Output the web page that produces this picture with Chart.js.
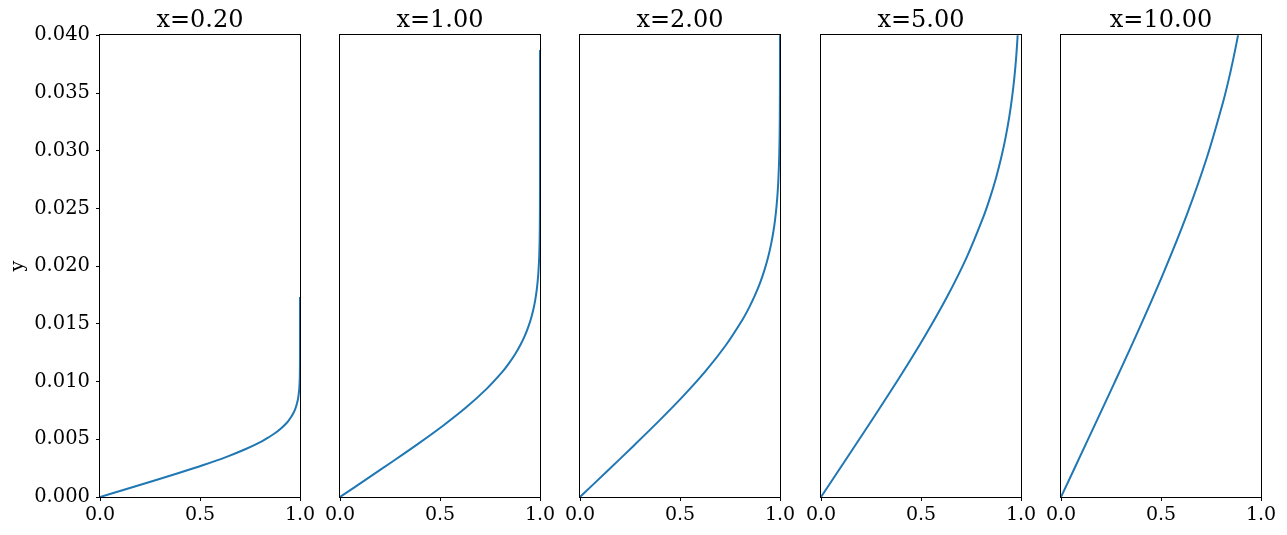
<!DOCTYPE html>
<html>
<head>
<meta charset="utf-8">
<script src="https://cdn.jsdelivr.net/npm/chart.js@4/dist/chart.umd.min.js"></script>
<style>
  body { margin: 0; background: #fff; }
  #wrap { position: relative; width: 1287px; height: 535px; overflow: hidden; }
  #wrap canvas { position: absolute; top: 0; }
</style>
</head>
<body>
<div id="wrap"></div>
<script>
// panel titles and axis ticks
const panelTitles = ["x=0.20", "x=1.00", "x=2.00", "x=5.00", "x=10.00"];
const xTickValues = [0, 0.5, 1.0];
const yTickStep = 0.005;
const yMax = 0.04;

// velocity ratio along each profile (same shape for every station)
const uProfile = [0, 0.1328, 0.2647, 0.3938, 0.5168, 0.6298, 0.7290, 0.8115, 0.8461, 0.8761,
    0.9018, 0.9233, 0.9411, 0.9555, 0.9670, 0.9759, 0.9827, 0.9878, 0.9916, 0.9962,
    0.9990, 0.9999, 1.0, 1.0];

// wall distance for those velocities, one list per station
const yAt020 = [0, 0.00069, 0.00139, 0.00208, 0.00277, 0.00346, 0.00416, 0.00485, 0.00520, 0.00554,
    0.00589, 0.00624, 0.00658, 0.00693, 0.00728, 0.00762, 0.00797, 0.00831, 0.00866, 0.00935,
    0.01039, 0.01212, 0.01386, 0.01732];
const yAt100 = [0, 0.00155, 0.00310, 0.00465, 0.00620, 0.00775, 0.00930, 0.01084, 0.01162, 0.01239,
    0.01317, 0.01394, 0.01472, 0.01549, 0.01627, 0.01704, 0.01782, 0.01859, 0.01937, 0.02091,
    0.02324, 0.02711, 0.03098, 0.03873];
const yAt200 = [0, 0.00219, 0.00438, 0.00657, 0.00876, 0.01095, 0.01315, 0.01534, 0.01643, 0.01753,
    0.01862, 0.01972, 0.02081, 0.02191, 0.02300, 0.02410, 0.02520, 0.02629, 0.02739, 0.02958,
    0.03286, 0.03834, 0.04382, 0.05477];
const yAt500 = [0, 0.00346, 0.00693, 0.01039, 0.01386, 0.01732, 0.02078, 0.02425, 0.02598, 0.02771,
    0.02945, 0.03118, 0.03291, 0.03464, 0.03637, 0.03811, 0.03984, 0.04157, 0.04330, 0.04677,
    0.05196, 0.06062, 0.06928, 0.08660];
const yAt1000 = [0, 0.00490, 0.00980, 0.01470, 0.01960, 0.02449, 0.02939, 0.03429, 0.03674, 0.03919,
    0.04164, 0.04409, 0.04654, 0.04899, 0.05144, 0.05389, 0.05634, 0.05879, 0.06124, 0.06614,
    0.07348, 0.08573, 0.09798, 0.12247];

const profiles = [yAt020, yAt100, yAt200, yAt500, yAt1000];
const plotLefts = [100, 340, 580, 821, 1061];
const plotWidth = 200;
const FONT = "'DejaVu Serif', serif";

Chart.defaults.font.family = FONT;
Chart.defaults.color = "#000";

// matplotlib-style box around each axes
const framePlugin = {
    id: "frame",
    afterDraw(chart) {
        const a = chart.chartArea;
        const ctx = chart.ctx;
        ctx.save();
        ctx.strokeStyle = "#000";
        ctx.lineWidth = 1;
        ctx.strokeRect(Math.round(a.left) - 0.5, Math.round(a.top) - 0.5,
            Math.round(a.right - a.left) + 1, Math.round(a.bottom - a.top) + 1);
        ctx.restore();
    }
};

function makePanel(i) {
    const first = i === 0;
    const padSide = 20;
    const left = first ? 0 : plotLefts[i] - padSide;
    const width = first ? plotLefts[0] + plotWidth + padSide : plotWidth + 2 * padSide;

    const canvas = document.createElement("canvas");
    canvas.width = width;
    canvas.height = 535;
    canvas.style.left = left + "px";
    canvas.style.width = width + "px";
    canvas.style.height = "535px";
    document.getElementById("wrap").appendChild(canvas);

    const points = uProfile.map((u, k) => ({ x: u, y: profiles[i][k] }));

    new Chart(canvas.getContext("2d"), {
        type: "scatter",
        data: {
            datasets: [{
                data: points,
                showLine: true,
                borderColor: "#1f77b4",
                borderWidth: 2,
                pointRadius: 0,
                tension: 0.35
            }]
        },
        options: {
            responsive: false,
            animation: false,
            layout: { padding: { left: first ? 0 : padSide, right: padSide, top: 0, bottom: 0 } },
            plugins: {
                legend: { display: false },
                tooltip: { enabled: false },
                title: {
                    display: true,
                    fullSize: false,
                    text: panelTitles[i],
                    color: "#000",
                    font: { family: FONT, size: 24, weight: "normal", lineHeight: 1.2 },
                    padding: { top: 6.5, bottom: 0 }
                }
            },
            scales: {
                x: {
                    type: "linear",
                    min: 0,
                    max: 1,
                    afterFit: s => { s.height = 38; },
                    afterBuildTicks: s => { s.ticks = xTickValues.map(v => ({ value: v })); },
                    ticks: {
                        font: { size: 19 },
                        color: "#000",
                        padding: 3,
                        maxRotation: 0,
                        callback: v => v.toFixed(1)
                    },
                    grid: { drawOnChartArea: false, color: "#000", tickLength: 4 },
                    border: { display: false }
                },
                y: {
                    type: "linear",
                    display: first,
                    min: 0,
                    max: yMax,
                    afterFit: s => { s.width = first ? 100 : 0; },
                    ticks: {
                        stepSize: yTickStep,
                        font: { size: 19.5 },
                        color: "#000",
                        padding: 6,
                        callback: v => v.toFixed(3)
                    },
                    grid: { drawOnChartArea: false, color: "#000", tickLength: 4 },
                    border: { display: false },
                    title: {
                        display: true,
                        text: "y",
                        color: "#000",
                        font: { size: 19, lineHeight: 1.2 },
                        padding: { top: 7, bottom: 0 }
                    }
                }
            }
        },
        plugins: [framePlugin]
    });
}

document.addEventListener("DOMContentLoaded", function () {
    for (let i = 0; i < panelTitles.length; i++) makePanel(i);
});
</script>
</body>
</html>
